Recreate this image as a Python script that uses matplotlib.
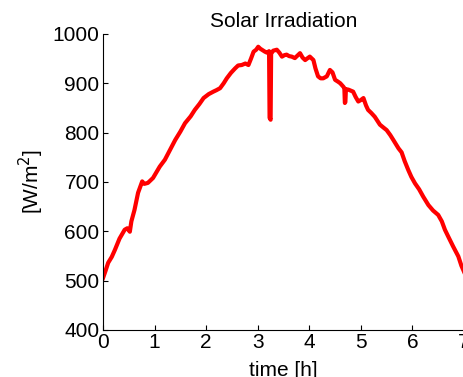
import matplotlib
matplotlib.use("Agg")
import matplotlib.pyplot as plt

plt.rcParams['font.family'] = ['Liberation Sans', 'DejaVu Sans']

# measured irradiance over the run
time_h = [0.00, 0.05, 0.10, 0.17, 0.23, 0.32, 0.42, 0.47, 0.52, 0.55,
          0.61, 0.68, 0.76, 0.80, 0.87, 0.97, 1.10, 1.20, 1.30, 1.40,
          1.50, 1.59, 1.70, 1.78, 1.87, 1.95, 2.05, 2.14, 2.20, 2.27,
          2.34, 2.40, 2.48, 2.56, 2.62, 2.69, 2.76, 2.82, 2.87, 2.92,
          2.97, 3.01, 3.05, 3.08, 3.14, 3.18, 3.22, 3.23, 3.25, 3.26,
          3.30, 3.37, 3.42, 3.47, 3.52, 3.56, 3.61, 3.66, 3.72, 3.77,
          3.82, 3.87, 3.92, 3.97, 4.01, 4.08, 4.12, 4.17, 4.22, 4.27,
          4.34, 4.40, 4.45, 4.50, 4.56, 4.60, 4.66, 4.68, 4.69, 4.70,
          4.71, 4.76, 4.85, 4.90, 4.95, 5.00, 5.05, 5.10, 5.14, 5.20,
          5.27, 5.37, 5.44, 5.50, 5.57, 5.63, 5.73, 5.79, 5.85, 5.92,
          5.98, 6.05, 6.13, 6.21, 6.31, 6.40, 6.50, 6.57, 6.63, 6.70,
          6.79, 6.89, 6.95, 7.00]
irradiance = [505, 520, 536, 548, 562, 585, 603, 606, 599, 620,
              643, 678, 701, 696, 698, 708, 731, 745, 765, 785,
              802, 819, 833, 846, 858, 870, 878, 883, 886, 890,
              900, 910, 921, 930, 936, 937, 940, 937, 950, 964,
              968, 974, 970, 968, 964, 962, 965, 830, 826, 960,
              966, 968, 962, 954, 957, 958, 955, 954, 951, 956,
              961, 952, 947, 951, 954, 947, 930, 914, 910, 910,
              914, 927, 922, 907, 903, 900, 893, 890, 860, 862,
              888, 887, 883, 872, 863, 866, 870, 855, 846, 840,
              832, 816, 810, 805, 795, 785, 768, 760, 742, 724,
              710, 697, 685, 670, 653, 642, 633, 620, 603, 588,
              569, 549, 530, 518]

fig = plt.figure(figsize=(4.64, 3.77), dpi=100)
ax = fig.add_axes([0.222, 0.125, 0.778, 0.785])

ax.plot(time_h, irradiance, color='red', linewidth=3)

ax.set_xlim(0, 7)
ax.set_ylim(400, 1000)
ax.set_xticks(range(0, 8))
ax.set_yticks(range(400, 1001, 100))

ax.spines['top'].set_visible(False)
ax.spines['right'].set_visible(False)
ax.tick_params(direction='in', length=3.5, width=0.8, labelsize=15, pad=2.5)

ax.set_title('Solar Irradiation', fontsize=15, pad=5)
ax.set_xlabel('time [h]', fontsize=15, labelpad=6)
ax.set_ylabel('[W/m$^2$]', fontsize=15, labelpad=5)

fig.savefig('out.png', dpi=100)
